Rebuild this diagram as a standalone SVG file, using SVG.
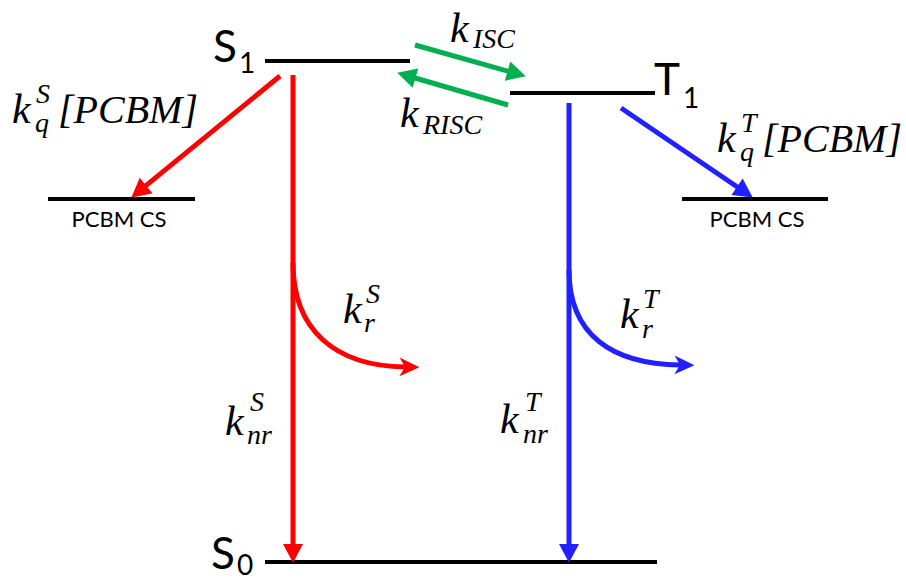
<svg xmlns="http://www.w3.org/2000/svg" width="906" height="579" viewBox="0 0 906 579">
<defs>
<style>
.lvl{stroke:#000;stroke-width:4;fill:none}
.lab{font-family:Lato,"Open Sans","Liberation Sans",sans-serif;fill:#000}
.big{font-size:44px}
.sub{font-size:28px}
.cs{font-size:22px;text-anchor:middle}
.m{font-family:"Liberation Serif","DejaVu Serif",serif;font-style:italic;fill:#000}
.mk{font-size:42px}
.ms{font-size:28px}
.mb{font-size:40px}
.red{stroke:#FF0000;stroke-width:5;fill:none}
.blue{stroke:#2121FF;stroke-width:5;fill:none}
.green{stroke:#00B050;stroke-width:5;fill:none}
</style>
<marker id="hr" markerUnits="userSpaceOnUse" markerWidth="20" markerHeight="20" viewBox="0 0 18 19" refX="2" refY="9.5" orient="auto"><path d="M0,0 L18,9.5 L0,19 z" fill="#FF0000"/></marker>
<marker id="hb" markerUnits="userSpaceOnUse" markerWidth="20" markerHeight="20" viewBox="0 0 18 19" refX="2" refY="9.5" orient="auto"><path d="M0,0 L18,9.5 L0,19 z" fill="#2121FF"/></marker>
<marker id="hg" markerUnits="userSpaceOnUse" markerWidth="20" markerHeight="20" viewBox="0 0 18 19" refX="2" refY="9.5" orient="auto"><path d="M0,0 L18,9.5 L0,19 z" fill="#00B050"/></marker>
<marker id="cr" markerUnits="userSpaceOnUse" markerWidth="20" markerHeight="20" viewBox="0 0 18 17" refX="5" refY="8.5" orient="auto"><path d="M0,0 L18,8.5 L0,17 L5,8.5 z" fill="#FF0000"/></marker>
<marker id="cb" markerUnits="userSpaceOnUse" markerWidth="20" markerHeight="20" viewBox="0 0 18 17" refX="5" refY="8.5" orient="auto"><path d="M0,0 L18,8.5 L0,17 L5,8.5 z" fill="#2121FF"/></marker>
</defs>
<rect width="906" height="579" fill="#fff"/>

<g id="S1">
<line class="lvl" x1="265" y1="61" x2="410" y2="61"/>
<text class="lab big" x="213" y="62">S</text><text class="lab sub" x="239" y="73">1</text>
</g>
<g id="T1">
<line class="lvl" x1="510" y1="93" x2="655" y2="93"/>
<text class="lab big" x="654" y="95">T</text><text class="lab sub" x="683" y="108">1</text>
</g>
<g id="S0">
<line class="lvl" x1="265" y1="562" x2="657" y2="562"/>
<text class="lab big" x="211" y="569">S</text><text class="lab sub" x="237" y="575">0</text>
</g>
<g id="PCBM_CS_left">
<line class="lvl" x1="48" y1="199" x2="195" y2="199"/>
<text class="lab cs" x="119" y="227">PCBM CS</text>
</g>
<g id="PCBM_CS_right">
<line class="lvl" x1="682" y1="199" x2="828" y2="199"/>
<text class="lab cs" x="757" y="227">PCBM CS</text>
</g>

<g id="connectors">
<line class="red" x1="280" y1="76" x2="144.4" y2="186.9" marker-end="url(#hr)"/>
<line class="red" x1="293" y1="75" x2="293" y2="546" marker-end="url(#hr)"/>
<path class="red" d="M293,263 C293,330 335,366 405,367" marker-end="url(#cr)"/>
<line class="blue" x1="569" y1="103" x2="569" y2="546" marker-end="url(#hb)"/>
<line class="blue" x1="621" y1="108" x2="738.8" y2="188" marker-end="url(#hb)"/>
<path class="blue" d="M569,270 C569,335 612,364 680,365" marker-end="url(#cb)"/>
<line class="green" x1="415" y1="45" x2="509.6" y2="71.7" marker-end="url(#hg)"/>
<line class="green" x1="508" y1="105" x2="413.4" y2="77.5" marker-end="url(#hg)"/>
</g>

<g id="labels">
<text class="m mk" x="12" y="123">k</text><text class="m ms" x="36" y="103">S</text><text class="m ms" x="35" y="132">q</text><text class="m mb" x="58" y="123">[PCBM]</text>
<text class="m mk" x="717" y="152">k</text><text class="m ms" x="741" y="132">T</text><text class="m ms" x="740" y="161">q</text><text class="m mb" x="762" y="152">[PCBM]</text>
<text class="m mk" x="450" y="42">k</text><text class="m ms" x="473" y="48">ISC</text>
<text class="m mk" x="400" y="127">k</text><text class="m ms" x="423" y="134">RISC</text>
<text class="m mk" x="343" y="323">k</text><text class="m ms" x="366" y="303">S</text><text class="m ms" x="364" y="332">r</text>
<text class="m mk" x="225" y="435">k</text><text class="m ms" x="250" y="411">S</text><text class="m ms" x="247" y="444">nr</text>
<text class="m mk" x="620" y="328">k</text><text class="m ms" x="643" y="308">T</text><text class="m ms" x="642" y="338">r</text>
<text class="m mk" x="500" y="433">k</text><text class="m ms" x="525" y="411">T</text><text class="m ms" x="523" y="443">nr</text>
</g>
</svg>
